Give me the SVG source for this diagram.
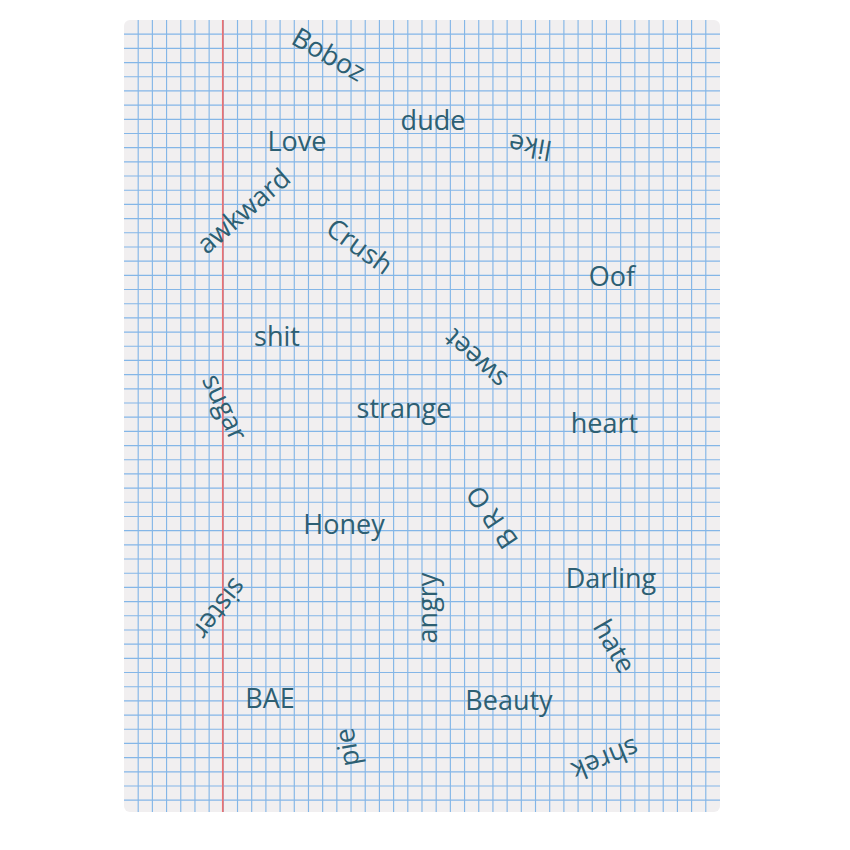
<svg xmlns="http://www.w3.org/2000/svg" width="850" height="850" viewBox="0 0 850 850">
<style>
.word{font-family:"Open Sans","Noto Sans","Liberation Sans",sans-serif;font-size:27px;fill:#2d5f73;text-anchor:middle}
.grid{stroke:#84b6e7;stroke-width:1.15;fill:none}
.margin{stroke:#ec7171;stroke-width:1.7}
</style>
<defs>
<clipPath id="paperClip"><rect x="124" y="20" width="596" height="792" rx="6" ry="6"/></clipPath>
</defs>
<rect width="850" height="850" fill="#ffffff"/>
<g id="paper">
<rect x="124" y="20" width="596" height="792" rx="6" ry="6" fill="#f1eff0"/>
<g clip-path="url(#paperClip)">
<path class="grid" d="M138.19 20V812M152.38 20V812M166.57 20V812M180.76 20V812M194.95 20V812M209.14 20V812M223.33 20V812M237.52 20V812M251.71 20V812M265.9 20V812M280.09 20V812M294.28 20V812M308.47 20V812M322.66 20V812M336.85 20V812M351.04 20V812M365.23 20V812M379.42 20V812M393.61 20V812M407.8 20V812M421.99 20V812M436.18 20V812M450.37 20V812M464.56 20V812M478.75 20V812M492.94 20V812M507.13 20V812M521.32 20V812M535.51 20V812M549.7 20V812M563.89 20V812M578.08 20V812M592.27 20V812M606.46 20V812M620.65 20V812M634.84 20V812M649.03 20V812M663.22 20V812M677.41 20V812M691.6 20V812M705.79 20V812"/>
<path class="grid" d="M124 34.19H720M124 48.37H720M124 62.56H720M124 76.74H720M124 90.93H720M124 105.11H720M124 119.3H720M124 133.48H720M124 147.67H720M124 161.85H720M124 176.04H720M124 190.22H720M124 204.41H720M124 218.59H720M124 232.78H720M124 246.96H720M124 261.15H720M124 275.33H720M124 289.52H720M124 303.7H720M124 317.89H720M124 332.07H720M124 346.26H720M124 360.44H720M124 374.63H720M124 388.81H720M124 403H720M124 417.18H720M124 431.37H720M124 445.55H720M124 459.74H720M124 473.92H720M124 488.11H720M124 502.29H720M124 516.48H720M124 530.66H720M124 544.85H720M124 559.03H720M124 573.22H720M124 587.4H720M124 601.59H720M124 615.77H720M124 629.96H720M124 644.14H720M124 658.33H720M124 672.51H720M124 686.7H720M124 700.88H720M124 715.07H720M124 729.25H720M124 743.44H720M124 757.62H720M124 771.81H720M124 785.99H720M124 800.18H720"/>
<line class="margin" x1="222.8" y1="20" x2="222.8" y2="812"/>
</g>
</g>
<g id="connectors"></g>
<g id="words">
<g id="w-boboz" transform="translate(329,54) rotate(30)"><text class="word" x="0" y="10">Boboz</text></g>
<g id="w-dude"><text class="word" x="433" y="130">dude</text></g>
<g id="w-like" transform="translate(530,147.5) rotate(190)"><text class="word" x="0" y="10">like</text></g>
<g id="w-love"><text class="word" x="297" y="151">Love</text></g>
<g id="w-awkward" transform="translate(243,210.5) rotate(-41)"><text class="word" x="0" y="10">awkward</text></g>
<g id="w-crush" transform="translate(360,246) rotate(36)"><text class="word" x="0" y="10">Crush</text></g>
<g id="w-oof"><text class="word" x="612" y="286">Oof</text></g>
<g id="w-shit"><text class="word" x="277" y="346">shit</text></g>
<g id="w-sweet" transform="translate(476.5,358) rotate(222)"><text class="word" x="0" y="8">sweet</text></g>
<g id="w-sugar" transform="translate(220,409.5) rotate(65)"><text class="word" x="0" y="4">sugar</text></g>
<g id="w-strange"><text class="word" x="404" y="418">strange</text></g>
<g id="w-heart"><text class="word" x="604.5" y="432.5">heart</text></g>
<g id="w-honey"><text class="word" x="344" y="534">Honey</text></g>
<g id="w-bro" transform="translate(492,517.5) rotate(236)"><text class="word" x="0" y="9.5">B R O</text></g>
<g id="w-darling"><text class="word" x="611" y="588">Darling</text></g>
<g id="w-hate" transform="translate(615,646) rotate(60)"><text class="word" x="0" y="10">hate</text></g>
<g id="w-sister" transform="translate(220,609) rotate(128)"><text class="word" x="0" y="9.5">sister</text></g>
<g id="w-angry" transform="translate(433,608) rotate(-90)"><text class="word" x="0" y="4">angry</text></g>
<g id="w-bae"><text class="word" x="270" y="708">BAE</text></g>
<g id="w-beauty"><text class="word" x="509" y="710">Beauty</text></g>
<g id="w-pie" transform="translate(350,747) rotate(-100)"><text class="word" x="0" y="6.6">pie</text></g>
<g id="w-shrek" transform="translate(605.5,760) rotate(158)"><text class="word" x="0" y="10">shrek</text></g>
</g>
</svg>
